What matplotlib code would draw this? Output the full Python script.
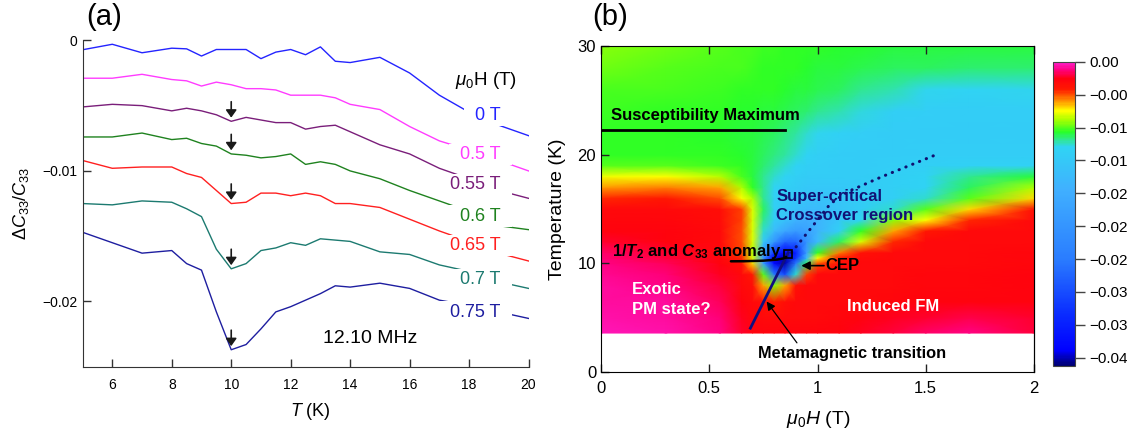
import numpy as np
import matplotlib
matplotlib.use("Agg")
import matplotlib.pyplot as plt
from matplotlib.colors import LinearSegmentedColormap
from matplotlib.ticker import FuncFormatter

plt.rcParams["font.family"] = ["Liberation Sans", "DejaVu Sans"]
plt.rcParams["mathtext.fontset"] = "custom"
plt.rcParams["mathtext.rm"] = "Liberation Sans"
plt.rcParams["mathtext.it"] = "Liberation Sans:italic"
plt.rcParams["mathtext.bf"] = "Liberation Sans:bold"
plt.rcParams["mathtext.bfit"] = "Liberation Sans:bold:italic"

# ---------------- panel (a) data: dC33/C33 vs T ----------------
temps = [5, 6, 7, 8, 8.5, 9, 9.5, 10, 10.5, 11, 11.5, 12, 12.5, 13, 13.5, 14, 15, 16, 17, 18, 19, 20]
fields = ["0 T", "0.5 T", "0.55 T", "0.6 T", "0.65 T", "0.7 T", "0.75 T"]
c33_0T = [-0.00072, -0.0003, -0.00095, -0.0006, -0.00065, -0.0012, -0.0007, -0.0007, -0.0007, -0.0014, -0.0009,
          -0.0007, -0.0011, -0.0005, -0.0016, -0.0017, -0.0013, -0.0025, -0.0042, -0.0055, -0.0065, -0.0073]
c33_050T = [-0.0029, -0.0029, -0.0026, -0.0030, -0.0031, -0.0035, -0.0032, -0.0034, -0.0037, -0.0037, -0.0038,
            -0.0042, -0.0042, -0.0042, -0.0044, -0.0049, -0.0053, -0.0066, -0.0077, -0.0084, -0.0092, -0.0100]
c33_055T = [-0.0051, -0.0049, -0.0050, -0.0054, -0.0052, -0.0054, -0.0057, -0.0062, -0.0059, -0.0061, -0.0063,
            -0.0063, -0.0068, -0.0066, -0.0065, -0.0070, -0.0080, -0.0087, -0.0098, -0.0106, -0.0115, -0.0121]
c33_060T = [-0.0074, -0.0074, -0.0071, -0.0076, -0.0075, -0.0079, -0.0081, -0.0087, -0.0088, -0.0090, -0.0089,
            -0.0087, -0.0095, -0.0093, -0.0095, -0.0100, -0.0106, -0.0115, -0.0123, -0.0131, -0.0142, -0.0145]
c33_065T = [-0.0092, -0.0098, -0.0097, -0.0097, -0.0102, -0.0105, -0.0115, -0.0125, -0.0124, -0.0117, -0.0117,
            -0.0119, -0.0117, -0.0119, -0.0125, -0.0125, -0.0128, -0.0137, -0.0146, -0.0154, -0.0163, -0.0169]
c33_070T = [-0.0125, -0.0126, -0.0123, -0.0124, -0.0129, -0.0135, -0.0160, -0.0175, -0.0171, -0.0161, -0.0159,
            -0.0155, -0.0157, -0.0152, -0.0153, -0.0154, -0.0162, -0.0164, -0.0172, -0.0177, -0.0185, -0.0190]
c33_075T = [-0.0147, -0.0155, -0.0163, -0.0161, -0.0171, -0.0176, -0.0208, -0.0237, -0.0233, -0.0221, -0.0208,
            -0.0204, -0.0199, -0.0194, -0.0188, -0.0189, -0.0186, -0.0190, -0.0199, -0.0203, -0.0208, -0.0213]
curve_colors = ["#2424ff", "#ff3cff", "#7a1e7a", "#1f821f", "#ff2020", "#1c7a70", "#1e1ea0"]
arrow_fields = ["0.55 T", "0.6 T", "0.65 T", "0.7 T", "0.75 T"]

# ---------------- panel (b) data: map of dC33/C33 (units 1e-3) ----------------
map_H = [0.0, 0.3, 0.55, 0.65, 0.7, 0.75, 0.8, 0.85, 0.9, 0.95, 1.0, 1.1, 1.2, 1.35, 1.5, 1.7, 2.0]
map_T = [3.6, 5, 6.5, 8, 9, 10, 10.5, 11, 12, 13, 14, 15, 16, 17, 18, 19, 20, 22, 24, 26, 28, 30]
map_val = [
    [-0.4, -0.5, -1.0, -1.8, -2.2, -2.3, -2.3, -2.3, -2.3, -2.3, -2.2, -2.2, -2.0, -1.6, -1.3, -1.0, -1.6],
    [-0.5, -0.6, -1.1, -2.0, -2.4, -2.5, -2.5, -2.5, -2.5, -2.5, -2.5, -2.4, -2.2, -2.0, -1.8, -1.5, -1.8],
    [-0.6, -0.7, -1.4, -2.3, -2.6, -2.8, -3.4, -2.8, -2.6, -2.5, -2.5, -2.5, -2.5, -2.4, -2.3, -2.2, -2.2],
    [-0.7, -0.9, -1.7, -2.5, -2.8, -5.0, -7.5, -5.0, -3.0, -2.6, -2.5, -2.5, -2.5, -2.5, -2.4, -2.4, -2.3],
    [-0.8, -1.1, -2.0, -2.6, -3.2, -8.0, -24, -28, -10, -3.8, -2.6, -2.5, -2.5, -2.5, -2.4, -2.4, -2.3],
    [-1.0, -1.4, -2.2, -3.0, -5.5, -18, -34, -36, -24, -9.0, -4.0, -2.8, -2.6, -2.5, -2.5, -2.5, -2.4],
    [-1.1, -1.6, -2.4, -3.5, -6.5, -20, -35, -36, -30, -14, -6.0, -3.2, -2.7, -2.5, -2.5, -2.5, -2.4],
    [-1.3, -1.8, -2.5, -3.8, -7.0, -18, -30, -35, -32, -18, -8.5, -4.5, -3.0, -2.6, -2.5, -2.5, -2.4],
    [-1.8, -2.2, -2.6, -4.0, -6.5, -12, -20, -26, -26, -20, -14, -9.0, -6.5, -3.5, -2.6, -2.5, -2.5],
    [-2.2, -2.3, -2.6, -4.0, -6.5, -10, -14, -17, -19, -18, -15, -11, -8.5, -5.0, -3.2, -2.6, -2.5],
    [-2.4, -2.4, -2.7, -3.8, -6.5, -9.5, -11.5, -13, -15, -16, -15, -12, -10.5, -7.5, -6.0, -3.5, -2.6],
    [-2.6, -2.5, -2.8, -3.8, -6.5, -9.0, -11, -12, -13, -14, -14, -12.5, -11.5, -10, -8.0, -5.5, -3.0],
    [-3.5, -3.2, -4.0, -6.0, -7.0, -9.5, -11, -11.5, -12, -12.5, -13, -12.5, -11.5, -11, -10, -8.0, -5.5],
    [-4.8, -4.6, -5.0, -7.0, -8.5, -9.5, -10.5, -11, -11.5, -12, -12, -12, -11.5, -11, -10.5, -9.0, -7.0],
    [-6.2, -6.0, -6.8, -8.2, -8.8, -9.5, -10, -10.5, -11, -11.5, -11.5, -11.5, -11.5, -11, -10.5, -9.5, -8.8],
    [-8.0, -8.0, -8.3, -8.5, -8.8, -9.2, -9.6, -10, -10.5, -11, -11.2, -11.5, -11.5, -11.2, -11, -10.8, -10.8],
    [-8.5, -8.5, -8.5, -8.6, -8.8, -9.0, -9.3, -9.6, -10, -10.5, -11, -11.3, -11.5, -11.5, -11.3, -11.3, -11.3],
    [-8.5, -8.5, -8.6, -8.7, -8.8, -8.9, -9.0, -9.3, -9.6, -10, -10.4, -10.8, -11.2, -11.5, -11.5, -11.5, -11.5],
    [-8.3, -8.4, -8.5, -8.6, -8.6, -8.7, -8.8, -8.9, -9.0, -9.2, -9.4, -9.7, -10.2, -11, -11.2, -11.3, -11.3],
    [-8.2, -8.2, -8.3, -8.4, -8.4, -8.5, -8.5, -8.6, -8.7, -8.8, -8.9, -9.1, -9.4, -9.8, -10.3, -10.5, -10.3],
    [-7.8, -8.0, -8.1, -8.2, -8.3, -8.4, -8.4, -8.5, -8.5, -8.6, -8.7, -8.8, -8.9, -9.0, -9.1, -9.2, -9.2],
    [-7.5, -7.8, -8.0, -8.1, -8.2, -8.3, -8.3, -8.4, -8.4, -8.5, -8.5, -8.6, -8.6, -8.7, -8.7, -8.8, -8.8],
]
# guide lines drawn on the map
susc_max_H = [0.0, 0.85]
susc_max_T = [22.3, 22.3]
meta_H = [0.69, 0.865]
meta_T = [4.05, 11.0]
crossover_H = [0.88, 0.94, 1.00, 1.06, 1.14, 1.30, 1.56]
crossover_T = [11.0, 12.5, 14.0, 15.5, 16.6, 18.0, 20.1]
cep_H, cep_T = 0.865, 10.9
cbar_ticks = [0.0, -0.004, -0.008, -0.012, -0.016, -0.020, -0.024, -0.028, -0.032, -0.036]

fig = plt.figure(figsize=(11.34, 4.34), dpi=100)

# ================= (a) =================
ax = fig.add_axes([0.0728, 0.155, 0.3933, 0.752])
series = [c33_0T, c33_050T, c33_055T, c33_060T, c33_065T, c33_070T, c33_075T]
for name, vals, col in zip(fields, series, curve_colors):
    ax.plot(temps, vals, color=col, lw=1.0, zorder=2)

# labels sit on white boxes that hide the curves behind them
label_y = [-0.00577, -0.00872, -0.01103, -0.01346, -0.01572, -0.01833, -0.02082]
for name, ly, col in zip(fields, label_y, curve_colors):
    ax.text(19.36, ly, "\u2002" + name + "\u2002", color=col, fontsize=13, ha="right", va="center", zorder=4,
            bbox=dict(boxstyle="square,pad=0.12", fc="white", ec="none"))
ax.text(18.57, -0.00308, r"$\mu_0$H (T)", fontsize=13.5, ha="center", va="center", zorder=4)
ax.text(14.69, -0.0228, "12.10 MHz", fontsize=14, ha="center", va="center")

for name in arrow_fields:
    vals = series[fields.index(name)]
    y10 = vals[temps.index(10)]
    ax.annotate("", xy=(10, y10 + 0.00028), xytext=(10, y10 + 0.0015),
                arrowprops=dict(arrowstyle="-|>,head_length=0.45,head_width=0.32", color="#1a1a1a", lw=1.2,
                                shrinkA=0, shrinkB=0), zorder=5)

ax.set_xlim(5, 20)
ax.set_ylim(-0.025, 0)
ax.set_xticks([6, 8, 10, 12, 14, 16, 18, 20])
ax.set_yticks([-0.02, -0.01, 0])
ax.set_yticklabels(["\u22120.02", "\u22120.01", "0"])
ax.tick_params(direction="in", length=6, width=1, labelsize=10, color="#333333")
ax.tick_params(axis="x", pad=8)
for s in ["top", "right"]:
    ax.spines[s].set_visible(False)
for s in ["left", "bottom"]:
    ax.spines[s].set_color("#333333")
ax.set_xlabel(r"$T$ (K)", fontsize=13)
ax.xaxis.set_label_coords(0.51, -0.105)
ax.set_ylabel(r"$\Delta C_{33}/C_{33}$", fontsize=13)
ax.yaxis.set_label_coords(-0.115, 0.5)
fig.text(0.076, 0.96, "(a)", fontsize=21, ha="left", va="center")

# ================= (b) =================
axb = fig.add_axes([0.530, 0.1424, 0.3818, 0.7516])
cmap = LinearSegmentedColormap.from_list("igor_rainbow", [
    (0.00, "#000070"), (0.05, "#0000ff"), (0.17, "#0a2cff"), (0.35, "#2a7cff"),
    (0.58, "#40b0ff"), (0.72, "#30d4f4"), (0.745, "#30e890"), (0.77, "#28ff28"),
    (0.81, "#a8ff00"), (0.84, "#ffff00"), (0.875, "#ff8a00"), (0.91, "#ff1a00"),
    (0.945, "#ff0010"), (0.975, "#ff0080"), (1.00, "#ff20d0")])
HH, TT = np.meshgrid(map_H, map_T)
vals = np.array(map_val) * 1e-3
mesh = axb.pcolormesh(HH, TT, vals, cmap=cmap, vmin=-0.037, vmax=0.0, shading="gouraud", rasterized=True)

axb.plot(susc_max_H, susc_max_T, color="black", lw=2)
axb.plot(crossover_H, crossover_T, color="#101070", lw=2.2, ls=(0, (0.1, 2.3)), dash_capstyle="round")
axb.plot(meta_H, meta_T, color="#101080", lw=2)
axb.plot([cep_H], [cep_T], marker="s", ms=6, mfc="none", mec="black", mew=1.2)

bold = dict(fontsize=12, fontweight="bold")
axb.text(0.045, 23.6, "Susceptibility Maximum", color="black", ha="left", va="center", **bold)
axb.text(0.81, 16.2, "Super-critical", color="#121275", ha="left", va="center", **bold)
axb.text(0.81, 14.4, "Crossover region", color="#121275", ha="left", va="center", **bold)
axb.text(0.05, 11.1, r"1/$\mathbfit{T}_\mathbf{2}$ and $\mathbfit{C}_\mathbf{33}$ anomaly", color="black",
         ha="left", va="center", **bold)
axb.annotate("", xy=(cep_H - 0.01, cep_T - 0.3), xytext=(0.6, 10.2),
             arrowprops=dict(arrowstyle="-", color="black", lw=1.8, connectionstyle="angle3,angleA=0,angleB=60",
                             shrinkA=0, shrinkB=0))
axb.text(1.035, 9.8, "CEP", color="black", ha="left", va="center", **bold)
axb.annotate("", xy=(0.925, 9.8), xytext=(1.03, 9.8),
             arrowprops=dict(arrowstyle="-|>,head_length=0.5,head_width=0.25", color="black", lw=1.2,
                             shrinkA=0, shrinkB=0))
axb.text(0.142, 7.6, "Exotic", color="white", ha="left", va="center", **bold)
axb.text(0.142, 5.8, "PM state?", color="white", ha="left", va="center", **bold)
axb.text(1.135, 6.0, "Induced FM", color="white", ha="left", va="center", **bold)
axb.text(0.727, 1.75, "Metamagnetic transition", color="black", ha="left", va="center", fontsize=11.8,
         fontweight="bold")
axb.annotate("", xy=(0.765, 6.5), xytext=(0.905, 2.7),
             arrowprops=dict(arrowstyle="-|>,head_length=0.5,head_width=0.25", color="black", lw=0.9,
                             shrinkA=0, shrinkB=0))

axb.set_xlim(0, 2)
axb.set_ylim(0, 30)
axb.set_xticks([0, 0.5, 1, 1.5, 2])
axb.set_xticklabels(["0", "0.5", "1", "1.5", "2"])
axb.set_yticks([0, 10, 20, 30])
axb.tick_params(direction="in", length=6, width=1, labelsize=12, top=True, color="#222222")
axb.tick_params(axis="x", pad=6)
sec = axb.secondary_yaxis("right")
sec.set_yticks([6.9, 18.5])
sec.set_yticklabels([])
sec.tick_params(direction="in", length=6, width=1)
axb.set_xlabel(r"$\mu_0H$ (T)", fontsize=14)
axb.xaxis.set_label_coords(0.502, -0.113)
axb.set_ylabel("Temperature (K)", fontsize=14)
axb.yaxis.set_label_coords(-0.08, 0.5)
fig.text(0.522, 0.96, "(b)", fontsize=21, ha="left", va="center")

cax = fig.add_axes([0.9283, 0.1567, 0.0197, 0.7011])
cb = fig.colorbar(mesh, cax=cax, ticks=cbar_ticks)
cb.ax.yaxis.set_major_formatter(FuncFormatter(lambda v, p: ("%.2f" % v).replace("-", "\u2212")))
cb.ax.tick_params(direction="out", length=7, width=1, labelsize=11, color="#444444")
cb.outline.set_edgecolor("#444444")

fig.savefig("out.png", dpi=100)
